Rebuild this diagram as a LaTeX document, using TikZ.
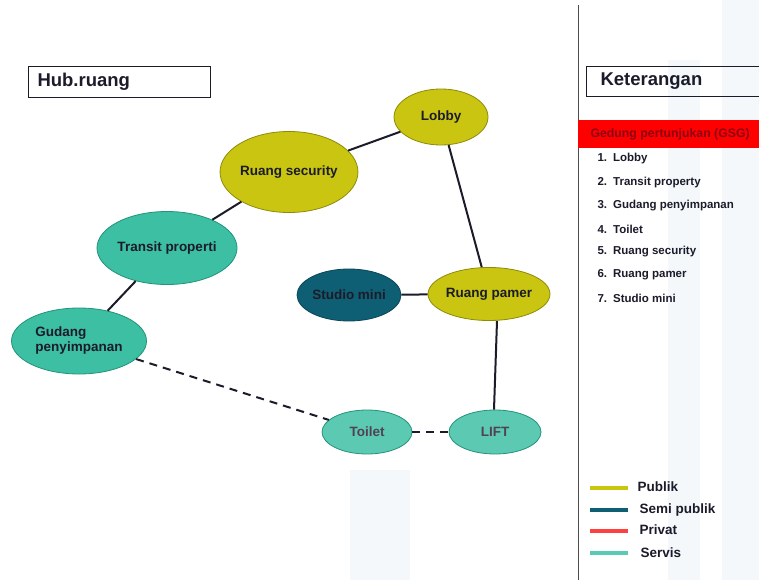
\documentclass[tikz,border=0pt]{standalone}
\usepackage{fontspec}
\setmainfont{Liberation Sans}
\usetikzlibrary{shapes.geometric}
\definecolor{pub}{HTML}{C9C510}
\definecolor{pubd}{HTML}{8E8A08}
\definecolor{serv}{HTML}{3CBFA2}
\definecolor{servd}{HTML}{23937A}
\definecolor{servl}{HTML}{5CC9B2}
\definecolor{semi}{HTML}{0F5F74}
\definecolor{semid}{HTML}{0A4656}
\definecolor{txt}{HTML}{1B1B2A}
\definecolor{wm}{HTML}{F4F8FA}
\tikzset{
  x=1pt, y=-1pt,
  room/.style={ellipse, draw, line width=0.8pt, inner sep=0pt, font=\bfseries\fontsize{13.5}{15}\selectfont, text=txt, align=left},
  publik/.style={room, fill=pub, draw=pubd},
  servis/.style={room, fill=serv, draw=servd},
  servisl/.style={room, fill=servl, draw=servd, text={rgb,255:red,80;green,66;blue,84}},
  semipub/.style={room, fill=semi, draw=semid},
  link/.style={draw=txt, line width=2pt},
  dlink/.style={link, dash pattern=on 8pt off 6pt},
  item/.style={anchor=west, font=\bfseries\fontsize{11.5}{13}\selectfont, text=txt},
  leg/.style={anchor=west, font=\bfseries\fontsize{13.5}{15}\selectfont, text=txt},
  legline/.style={line width=3.5pt}
}
\begin{document}
\begin{tikzpicture}
\useasboundingbox (0,0) rectangle (759,580);
\fill[white] (0,0) rectangle (759,580);
% faint watermark
\fill[wm] (668,60) rectangle (700,580);
\fill[wm] (722,0) rectangle (759,580);
\fill[wm] (350,470) rectangle (410,580);
% divider
\draw[line width=1pt, black!70] (578,5) -- (578,580);

% title boxes
\draw[txt, line width=1pt] (28,67) rectangle (210,98);
\node[anchor=west, font=\bfseries\fontsize{18.5}{20}\selectfont, text=txt] (hub) at (34,82) {Hub.ruang};
\draw[txt, line width=1pt] (586,67) rectangle (765,97);
\node[anchor=west, font=\bfseries\fontsize{18.5}{20}\selectfont, text=txt] (ket) at (597,81) {Keterangan};

% red bar
\fill[red] (578,120) rectangle (759,148);
\node[anchor=west, font=\bfseries\fontsize{12.3}{14}\selectfont, text={rgb,255:red,140;green,0;blue,20}] (gsg) at (587,134) {Gedung pertunjukan (GSG)};

% list
\node[item] (l1) at (594,159) {1.\hspace{6pt}Lobby};
\node[item] (l2) at (594,183) {2.\hspace{6pt}Transit property};
\node[item] (l3) at (594,206) {3.\hspace{6pt}Gudang penyimpanan};
\node[item] (l4) at (594,229) {4.\hspace{6pt}Toilet};
\node[item] (l5) at (594,252) {5.\hspace{6pt}Ruang security};
\node[item] (l6) at (594,275) {6.\hspace{6pt}Ruang pamer};
\node[item] (l7) at (594,298) {7.\hspace{6pt}Studio mini};

% legend
\draw[legline, pub] (590,488) -- (628,488);
\node[leg] (lg1) at (634,487) {Publik};
\draw[legline, semi] (590,510) -- (628,510);
\node[leg] (lg2) at (636,510) {Semi publik};
\draw[legline, red!75!white] (590,531) -- (628,531);
\node[leg] (lg3) at (636,530) {Privat};
\draw[legline, servl] (590,553) -- (628,553);
\node[leg] (lg4) at (637,553) {Servis};

% rooms
\node[publik, minimum width=94pt, minimum height=56pt] (lobby) at (441,117) {Lobby};
\node[publik, minimum width=136pt, minimum height=81pt] (sec) at (289,172) {Ruang security};
\node[servis, minimum width=137pt, minimum height=73pt] (trans) at (167,248) {Transit properti};
\node[servis, minimum width=135pt, minimum height=66pt] (gud) at (79,341) {Gudang\\penyimpanan};
\node[semipub, minimum width=100pt, minimum height=52pt] (studio) at (349,295) {Studio mini};
\node[publik, minimum width=94pt, minimum height=53pt] (pamer) at (489,294) {Ruang pamer};
\node[servisl, minimum width=90pt, minimum height=44pt] (toilet) at (367,432) {Toilet};
\node[servisl, minimum width=92pt, minimum height=44pt] (lift) at (495,432) {LIFT};

% connectors
\draw[link] (lobby) -- (sec);
\draw[link] (lobby) -- (pamer);
\draw[link] (sec) -- (trans);
\draw[link] (trans) -- (gud);
\draw[link] (studio) -- (pamer);
\coordinate (ps) at ([xshift=8pt]pamer.south);
\coordinate (lt) at ([xshift=-1pt]lift.north);
\draw[link] (ps) -- (lt);
\draw[dlink] (gud) -- (toilet);
\draw[dlink] (toilet) -- (lift);
\end{tikzpicture}
\end{document}
